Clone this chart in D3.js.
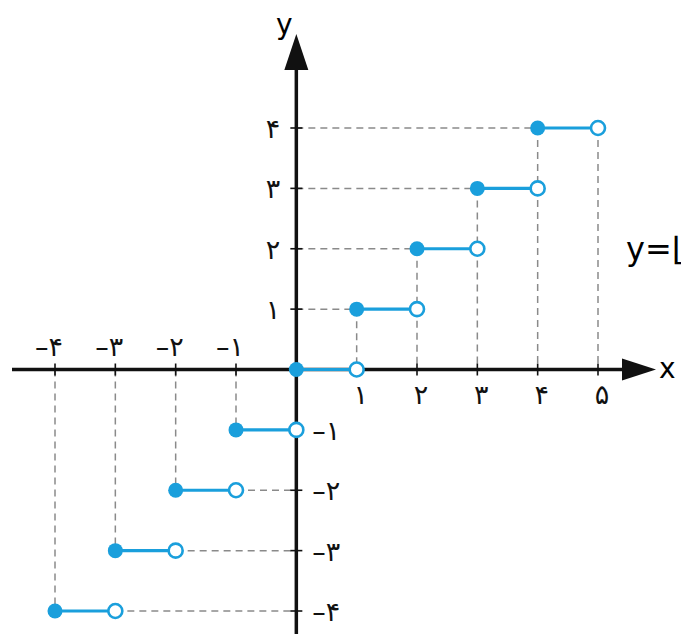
<!DOCTYPE html>
<html>
<head>
<meta charset="utf-8">
<script src="https://cdn.jsdelivr.net/npm/d3@7"></script>
<style>
  body { margin: 0; background: #fff; overflow: hidden; }
  text { font-family: "DejaVu Sans", sans-serif; }
</style>
</head>
<body>
<svg id="chart"></svg>
<script>
const WIDTH = 681;
const HEIGHT = 643;
const BLUE = "#1a9fdc";
const GRAY = "#8a8a8a";

// step function y = [x]
const stepStart = [-4, -3, -2, -1, 0, 1, 2, 3, 4];
const stepValue = [-4, -3, -2, -1, 0, 1, 2, 3, 4];

const xTicks = [-4, -3, -2, -1, 1, 2, 3, 4, 5];
const xTickLabels = ["–۴", "–۳", "–۲", "–۱", "۱", "۲", "۳", "۴", "۵"];
const yTicks = [4, 3, 2, 1, -1, -2, -3, -4];
const yTickLabels = ["۴", "۳", "۲", "۱", "–۱", "–۲", "–۳", "–۴"];

const x = d3.scaleLinear().domain([-4, 5]).range([55, 598]);
const y = d3.scaleLinear().domain([-4, 4]).range([611, 128]);

const svg = d3.select("#chart").attr("width", WIDTH).attr("height", HEIGHT);

const steps = stepStart.map((s, i) => ({ x0: s, x1: s + 1, v: stepValue[i] }));

// dashed guide lines
const guides = svg.append("g")
   .attr("stroke", GRAY)
   .attr("stroke-width", 1.5)
   .attr("stroke-dasharray", "7,5")
   .attr("fill", "none");

steps.forEach(d => {
   if (d.v === 0) return;
   if (d.v > 0) {
      // horizontal from y-axis to filled end, verticals down to x-axis
      guides.append("line").attr("x1", x(0)).attr("x2", x(d.x0)).attr("y1", y(d.v)).attr("y2", y(d.v));
      guides.append("line").attr("x1", x(d.x0)).attr("x2", x(d.x0)).attr("y1", y(d.v)).attr("y2", y(0));
      if (d.v === 4) {
         guides.append("line").attr("x1", x(d.x1)).attr("x2", x(d.x1)).attr("y1", y(d.v)).attr("y2", y(0));
      }
   } else {
      guides.append("line").attr("x1", x(d.x1)).attr("x2", x(0)).attr("y1", y(d.v)).attr("y2", y(d.v));
      guides.append("line").attr("x1", x(d.x0)).attr("x2", x(d.x0)).attr("y1", y(0)).attr("y2", y(d.v));
   }
});

// axes
const axes = svg.append("g").attr("stroke", "#111").attr("stroke-width", 3.5);
axes.append("line").attr("x1", 12).attr("x2", 630).attr("y1", y(0)).attr("y2", y(0));
axes.append("line").attr("x1", x(0)).attr("x2", x(0)).attr("y1", 634).attr("y2", 65);

svg.append("path")
   .attr("d", `M${622},${y(0) - 11}L${656},${y(0)}L${622},${y(0) + 11}Z`)
   .attr("fill", "#111");
svg.append("path")
   .attr("d", `M${x(0) - 12},${70}L${x(0)},${34}L${x(0) + 12},${70}Z`)
   .attr("fill", "#111");

// tick marks
const ticks = svg.append("g").attr("stroke", "#111").attr("stroke-width", 1.6);
xTicks.forEach(t => {
   ticks.append("line").attr("x1", x(t)).attr("x2", x(t)).attr("y1", y(0) - 6).attr("y2", y(0) + 6);
});
yTicks.forEach(t => {
   ticks.append("line").attr("x1", x(0) - 6).attr("x2", x(0) + 6).attr("y1", y(t)).attr("y2", y(t));
});

// tick labels
const labels = svg.append("g").attr("fill", "#111").attr("font-size", 27);
xTicks.forEach((t, i) => {
   labels.append("text")
      .attr("x", t < 0 ? x(t) - 6 : x(t) + 4)
      .attr("y", t < 0 ? y(0) - 14 : y(0) + 34)
      .attr("text-anchor", "middle")
      .attr("direction", "ltr")
      .style("unicode-bidi", "bidi-override")
      .text(xTickLabels[i]);
});
yTicks.forEach((t, i) => {
   labels.append("text")
      .attr("x", t > 0 ? x(0) - 16 : x(0) + 16)
      .attr("y", y(t) + 10)
      .attr("text-anchor", t > 0 ? "end" : "start")
      .attr("direction", "ltr")
      .style("unicode-bidi", "bidi-override")
      .text(yTickLabels[i]);
});

// axis names and formula (formula runs off the right edge, as in the source)
svg.append("text").attr("x", 659).attr("y", 378).attr("font-size", 28).text("x");
svg.append("text").attr("x", 276).attr("y", 34).attr("font-size", 28).text("y");
svg.append("text").attr("x", 626).attr("y", 260).attr("font-size", 32).text("y=⌊x⌋");

// steps
const stepG = svg.append("g");
stepG.selectAll("line.step")
   .data(steps)
   .enter()
   .append("line")
   .attr("class", "step")
   .attr("x1", d => x(d.x0))
   .attr("x2", d => x(d.x1))
   .attr("y1", d => y(d.v))
   .attr("y2", d => y(d.v))
   .attr("stroke", BLUE)
   .attr("stroke-width", 3.2);

stepG.selectAll("circle.closed")
   .data(steps)
   .enter()
   .append("circle")
   .attr("class", "closed")
   .attr("cx", d => x(d.x0))
   .attr("cy", d => y(d.v))
   .attr("r", 7.5)
   .attr("fill", BLUE);

stepG.selectAll("circle.open")
   .data(steps)
   .enter()
   .append("circle")
   .attr("class", "open")
   .attr("cx", d => x(d.x1))
   .attr("cy", d => y(d.v))
   .attr("r", 7)
   .attr("fill", "#fff")
   .attr("stroke", BLUE)
   .attr("stroke-width", 2.6);
</script>
</body>
</html>
